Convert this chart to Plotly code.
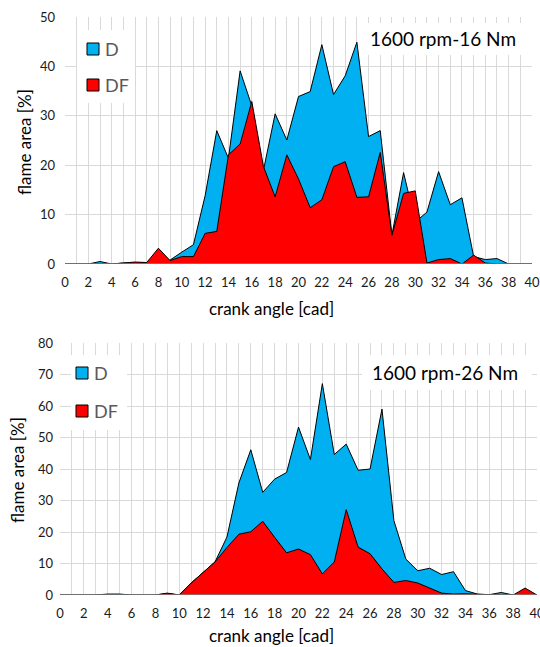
import plotly.graph_objects as go

# Crank angle positions [cad]
crank_angle = list(range(0, 41))

# 1600 rpm - 16 Nm: flame area [%]
d_16nm = [0, 0, 0, 0.5, 0, 0.2, 0.3, 0.3, 0, 0.8,
          2.4, 3.9, 13.8, 27.0, 21.4, 39.1, 32.0, 19.0, 30.4, 25.1,
          33.9, 34.9, 44.4, 34.3, 38.1, 44.9, 25.8, 27.0, 5.8, 18.5,
          8.5, 10.5, 18.7, 12.0, 13.4, 1.5, 0.9, 1.1, 0, 0, 0]
df_16nm = [0, 0, 0, 0, 0, 0.2, 0.4, 0.3, 3.2, 0.7,
           1.5, 1.5, 6.2, 6.6, 22.1, 24.3, 32.9, 19.7, 13.6, 22.1,
           17.2, 11.4, 13.0, 19.7, 20.7, 13.5, 13.6, 22.6, 5.8, 14.3,
           14.8, 0.2, 0.9, 1.1, 0, 1.8, 0.2, 0, 0, 0, 0]

# 1600 rpm - 26 Nm: flame area [%]
d_26nm = [0, 0, 0, 0, 0.3, 0.3, 0, 0, 0, 0.5,
          0, 3.8, 7.2, 10.5, 18.4, 35.6, 46.1, 32.6, 36.8, 38.9,
          53.3, 43.0, 67.1, 44.6, 47.9, 39.6, 40.0, 59.0, 23.6, 11.4,
          7.7, 8.5, 6.5, 7.4, 1.4, 0.3, 0.1, 0.8, 0, 0, 0]
df_26nm = [0, 0, 0, 0, 0, 0, 0, 0, 0, 0.6,
           0, 3.8, 7.2, 10.5, 15.1, 19.3, 20.1, 23.4, 18.3, 13.4,
           14.6, 12.8, 6.7, 10.5, 27.1, 15.2, 13.1, 8.3, 4.0, 4.6,
           3.8, 2.1, 0.6, 0.3, 0.4, 0.2, 0, 0, 0, 2.2, 0]

series_names = ["D", "DF"]
titles = ["1600 rpm-16 Nm", "1600 rpm-26 Nm"]
x_title = "crank angle [cad]"
y_title = "flame area [%]"

BLUE = "#00B0F0"
RED = "#FF0000"
GRID = "#D9D9D9"
FONT = "Lato"
W, H = 540, 647


def px_x(p):
    return p / W


def px_y(p):
    return 1 - p / H


fig = go.Figure()

panels = [("x", "y", d_16nm, df_16nm), ("x2", "y2", d_26nm, df_26nm)]
for xa, ya, d_vals, df_vals in panels:
    for name, vals, color in zip(series_names, [d_vals, df_vals], [BLUE, RED]):
        fig.add_trace(go.Scatter(
            x=crank_angle, y=vals, xaxis=xa, yaxis=ya,
            mode="lines", fill="tozeroy", fillcolor=color,
            line=dict(color="black", width=1), showlegend=False,
            hoverinfo="x+y", name=name))

axis_common = dict(
    showgrid=True, gridcolor=GRID, gridwidth=1,
    zeroline=False, ticks="", showline=False, automargin=False,
    ticklabeloverflow="allow",
    tickfont=dict(family=FONT, size=13, color="#1a1a1a"),
)

fig.update_layout(
    width=W, height=H,
    margin=dict(l=0, r=0, t=0, b=0),
    paper_bgcolor="white", plot_bgcolor="white",
    showlegend=False,
    xaxis=dict(domain=[px_x(65), px_x(532)], anchor="y", range=[0, 40], dtick=2,
               minor=dict(dtick=1, showgrid=True, gridcolor=GRID),
               ticklabelstandoff=9, **axis_common),
    yaxis=dict(domain=[px_y(264), px_y(17)], anchor="x", range=[0, 50], dtick=10,
               ticklabelstandoff=9, **axis_common),
    xaxis2=dict(domain=[px_x(60), px_x(537)], anchor="y2", range=[0, 40], dtick=2,
                minor=dict(dtick=1, showgrid=True, gridcolor=GRID),
                ticklabelstandoff=9, **axis_common),
    yaxis2=dict(domain=[px_y(595), px_y(343)], anchor="x2", range=[0, 80], dtick=10,
                ticklabelstandoff=6, **axis_common),
)

# bottom axis line at y = 0
for xa, ya in [("x", "y"), ("x2", "y2")]:
    fig.add_shape(type="line", xref=xa + " domain", yref=ya,
                  x0=0, x1=1, y0=0, y1=0,
                  line=dict(color="#808080", width=1.5))

# axis titles
for cx, cy in [(271, 308), (271, 635)]:
    fig.add_annotation(text=x_title, xref="paper", yref="paper",
                       x=px_x(cx), y=px_y(cy), xanchor="center", yanchor="middle",
                       showarrow=False, font=dict(family=FONT, size=17, color="black"))
for cx, cy in [(24, 142), (17, 470)]:
    fig.add_annotation(text=y_title, xref="paper", yref="paper", textangle=-90,
                       x=px_x(cx), y=px_y(cy), xanchor="center", yanchor="middle",
                       showarrow=False, font=dict(family=FONT, size=17, color="black"))

# legend boxes: white panel, square swatches and labels
legend_specs = [
    dict(box=(77, 30, 135, 103), sq_x=93, rows=(49, 85)),
    dict(box=(71, 355, 127, 430), sq_x=82, rows=(373, 411)),
]
for spec in legend_specs:
    x0, y0, x1, y1 = spec["box"]
    fig.add_shape(type="rect", xref="paper", yref="paper",
                  x0=px_x(x0), x1=px_x(x1), y0=px_y(y1), y1=px_y(y0),
                  fillcolor="white", line=dict(width=0), layer="above")
    for name, color, ry in zip(series_names, [BLUE, RED], spec["rows"]):
        sx = spec["sq_x"]
        fig.add_shape(type="rect", xref="paper", yref="paper",
                      x0=px_x(sx - 6), x1=px_x(sx + 6),
                      y0=px_y(ry + 6), y1=px_y(ry - 6),
                      fillcolor=color, line=dict(color="black", width=1),
                      layer="above")
        fig.add_annotation(text=name, xref="paper", yref="paper",
                           x=px_x(sx + 10), y=px_y(ry), xanchor="left",
                           yanchor="middle", showarrow=False,
                           font=dict(family=FONT, size=18, color="#595959"))

# operating point labels
for (bx0, by0, bx1, by1), label in zip([(360, 23, 530, 55), (362, 355, 532, 390)], titles):
    fig.add_shape(type="rect", xref="paper", yref="paper",
                  x0=px_x(bx0), x1=px_x(bx1), y0=px_y(by1), y1=px_y(by0),
                  fillcolor="white", line=dict(width=0), layer="above")
    fig.add_annotation(text=label, xref="paper", yref="paper",
                       x=px_x(bx0 + 8), y=px_y((by0 + by1) / 2),
                       xanchor="left", yanchor="middle", showarrow=False,
                       font=dict(family=FONT, size=19, color="black"))

fig.write_html("out.html")
